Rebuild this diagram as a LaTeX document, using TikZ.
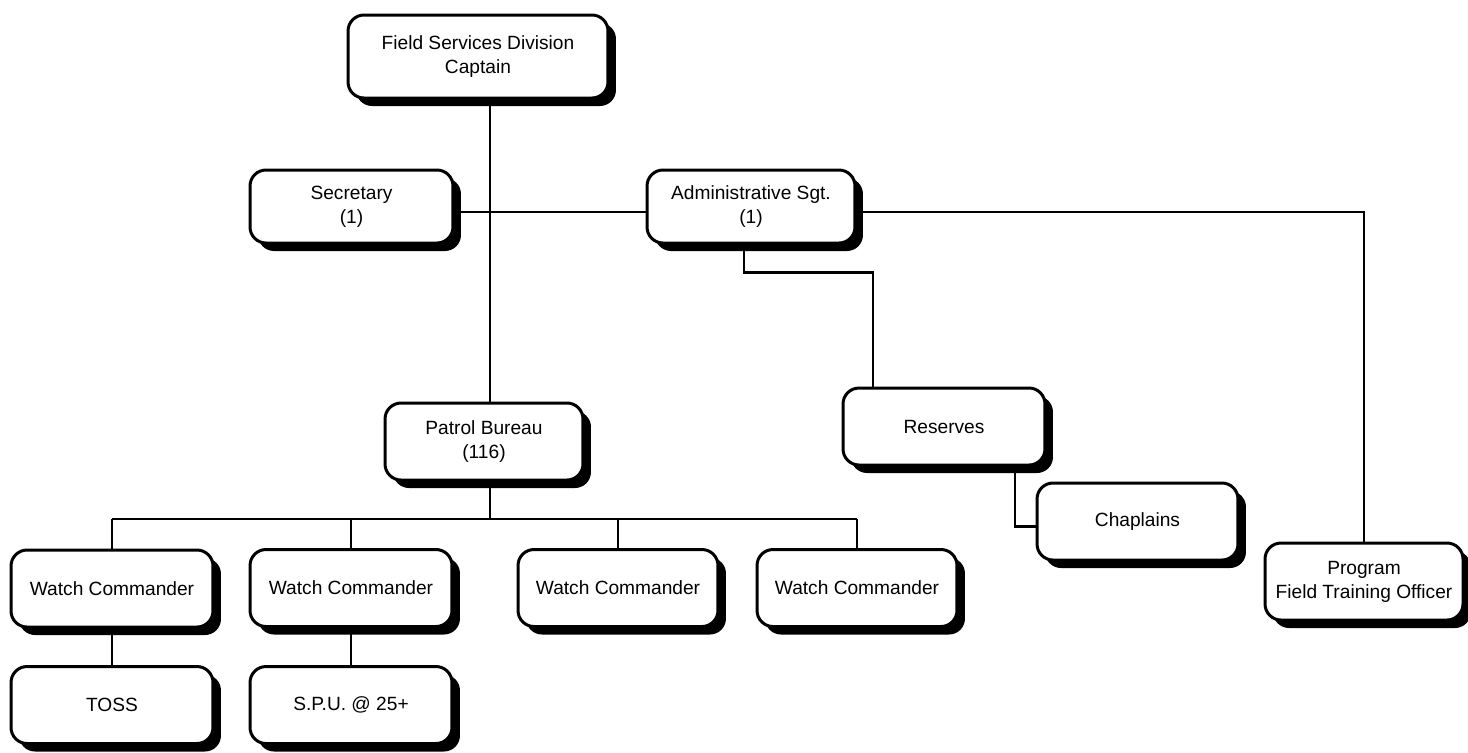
\documentclass[tikz,border=0pt]{standalone}
\usepackage{fontspec}
\setmainfont{Liberation Sans}
\usetikzlibrary{shadows}

\tikzset{
  unit/.style={draw, line width=1.7pt, rounded corners=0.32cm, fill=white,
    minimum width=4cm, minimum height=1.54cm, align=center,
    font=\fontsize{10.9}{13.7}\selectfont,
    drop shadow={shadow xshift=0.16cm, shadow yshift=-0.16cm, fill=black, opacity=1}},
  link/.style={line width=1.3pt}
}

\begin{document}
\begin{tikzpicture}[x=0.02cm, y=-0.02cm]
        \useasboundingbox (0,0) rectangle (1468,752);

        % top of the chart
        \node[unit, minimum width=5.2cm, minimum height=1.66cm] (cap) at (478,56.5) {Field Services Division\\Captain};
        \node[unit, minimum width=4.06cm, minimum height=1.46cm] (sec) at (351.5,206.5) {Secretary\\(1)};
        \node[unit, minimum width=4.16cm, minimum height=1.46cm] (adm) at (751,206.5) {Administrative Sgt.\\(1)};
        \node[unit, minimum width=3.96cm] (pat) at (484,441.5) {Patrol Bureau\\(116)};
        \node[unit, minimum width=4.04cm] (res) at (944,426.5) {Reserves};
        \node[unit, minimum width=4.02cm] (chap) at (1137.5,521.5) {Chaplains};
        \node[unit, minimum width=3.96cm] (fto) at (1364,581.5) {Program\\Field Training Officer};

        % watch commanders
        \node[unit, minimum width=4.04cm] (wc1) at (112,588.5) {Watch Commander};
        \node[unit, minimum width=4.04cm] (wc2) at (351,588) {Watch Commander};
        \node[unit] (wc3) at (618,588) {Watch Commander};
        \node[unit] (wc4) at (857,588) {Watch Commander};
        \node[unit, minimum width=4.04cm] (toss) at (112,705) {TOSS};
        \node[unit, minimum width=4.04cm] (spu) at (351,705) {S.P.U. @ 25+};

        \coordinate (trunk) at (490,519);

        % connectors
        \draw[link] (cap.south -| trunk) -- (pat.north -| trunk);
        \draw[link] ([yshift=-0.11cm]sec.east) -- ([yshift=-0.11cm]adm.west);
        \draw[link] ([yshift=-0.11cm]adm.east) -| (fto.north);
        \draw[link] ([xshift=-0.14cm]adm.south) -- ++(0,28) -| ([xshift=-1.42cm]res.north);
        \draw[link] ([xshift=1.42cm]res.south) |- ([yshift=-0.1cm]chap.west);
        \draw[link] (pat.south -| trunk) -- (trunk);
        \draw[link] (wc1.north |- trunk) -- (wc4.north |- trunk);
        \foreach \w in {wc1,wc2,wc3,wc4}
                \draw[link] (\w.north |- trunk) -- (\w.north);
        \draw[link] (wc1.south) -- (toss.north);
        \draw[link] (wc2.south) -- (spu.north);
\end{tikzpicture}
\end{document}
